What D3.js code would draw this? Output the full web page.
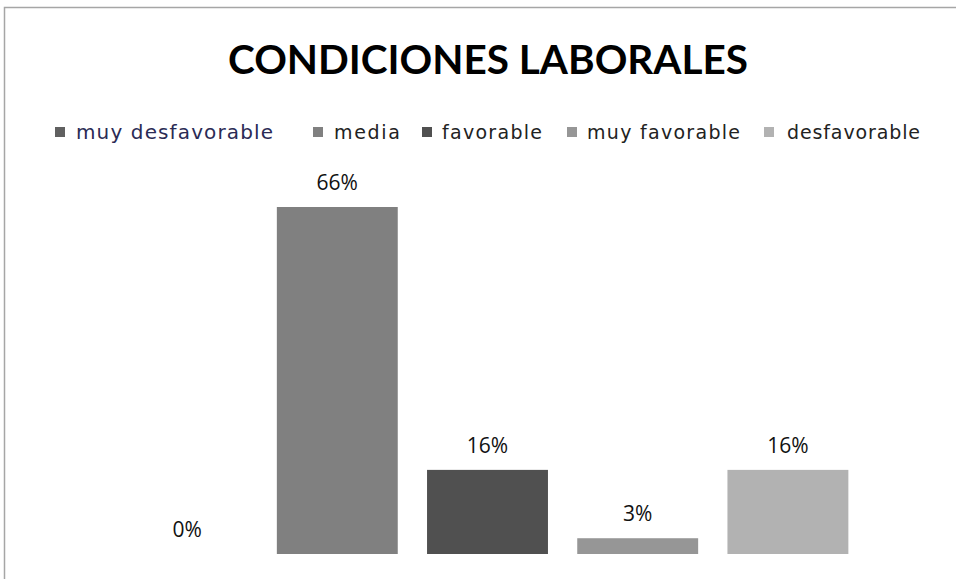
<!DOCTYPE html>
<html>
<head>
<meta charset="utf-8">
<script src="https://cdn.jsdelivr.net/npm/d3@7"></script>
<style>
  html, body { margin: 0; padding: 0; background: #fff; }
  svg { display: block; }
</style>
</head>
<body>
<svg id="chart" width="956" height="579"></svg>
<script>
// Series names, values (percent) and fills
const series = ["muy desfavorable", "media", "favorable", "muy favorable", "desfavorable"];
const values = [0, 66, 16, 3, 16];
const colors = ["#606060", "#808080", "#505050", "#969696", "#b2b2b2"];
const title = "CONDICIONES LABORALES";

const svg = d3.select("#chart");

// outer chart frame
svg.append("rect")
  .attr("x", 4.5).attr("y", 7.5)
  .attr("width", 980).attr("height", 600)
  .attr("fill", "#fff").attr("stroke", "#a6a6a6").attr("stroke-width", 1.5);

svg.append("text")
  .attr("x", 488).attr("y", 74)
  .attr("text-anchor", "middle")
  .attr("font-family", "Lato, 'Open Sans', sans-serif")
  .attr("font-weight", "bold")
  .attr("font-size", 40.7)
  .attr("textLength", 520)
  .attr("lengthAdjust", "spacingAndGlyphs")
  .attr("fill", "#000")
  .text(title);

// legend: swatch x, text start, text width, font size per entry
const legendX = [55, 313, 422, 567, 764];
const legendTX = [76, 334, 442, 587, 787];
const legendW = [197, 66, 100, 153, 133];
const legendFS = [20, 19, 19, 19, 19];
const legend = svg.append("g").attr("font-family", "'DejaVu Sans', 'Open Sans', sans-serif");
series.forEach((s, i) => {
  legend.append("rect")
    .attr("x", legendX[i]).attr("y", 127)
    .attr("width", 10).attr("height", 10)
    .attr("fill", colors[i]);
  legend.append("text")
    .attr("x", legendTX[i]).attr("y", 139)
    .attr("font-size", legendFS[i])
    .attr("textLength", legendW[i]).attr("lengthAdjust", "spacing")
    .attr("fill", i === 0 ? "#2b2b55" : "#222")
    .text(s);
});

// plot area
const plot = { left: 112, right: 863, top: 160, bottom: 554 };
const x = d3.scaleBand().domain(series).range([plot.left, plot.right]).paddingInner(0.195).paddingOuter(0.0975);
const y = d3.scaleLinear().domain([0, 66]).range([plot.bottom, 207]);

const data = series.map((s, i) => ({ name: s, value: values[i], color: colors[i] }));

svg.append("g").selectAll("rect")
  .data(data).join("rect")
  .attr("x", d => x(d.name))
  .attr("y", d => y(d.value))
  .attr("width", x.bandwidth())
  .attr("height", d => y(0) - y(d.value))
  .attr("fill", d => d.color);

svg.append("g").selectAll("text")
  .data(data).join("text")
  .attr("x", d => x(d.name) + x.bandwidth() / 2)
  .attr("y", d => y(d.value) - 17)
  .attr("text-anchor", "middle")
  .attr("font-family", "'Open Sans', sans-serif")
  .attr("font-size", 21)
  .attr("fill", "#111")
  .text(d => d.value + "%");
</script>
</body>
</html>
